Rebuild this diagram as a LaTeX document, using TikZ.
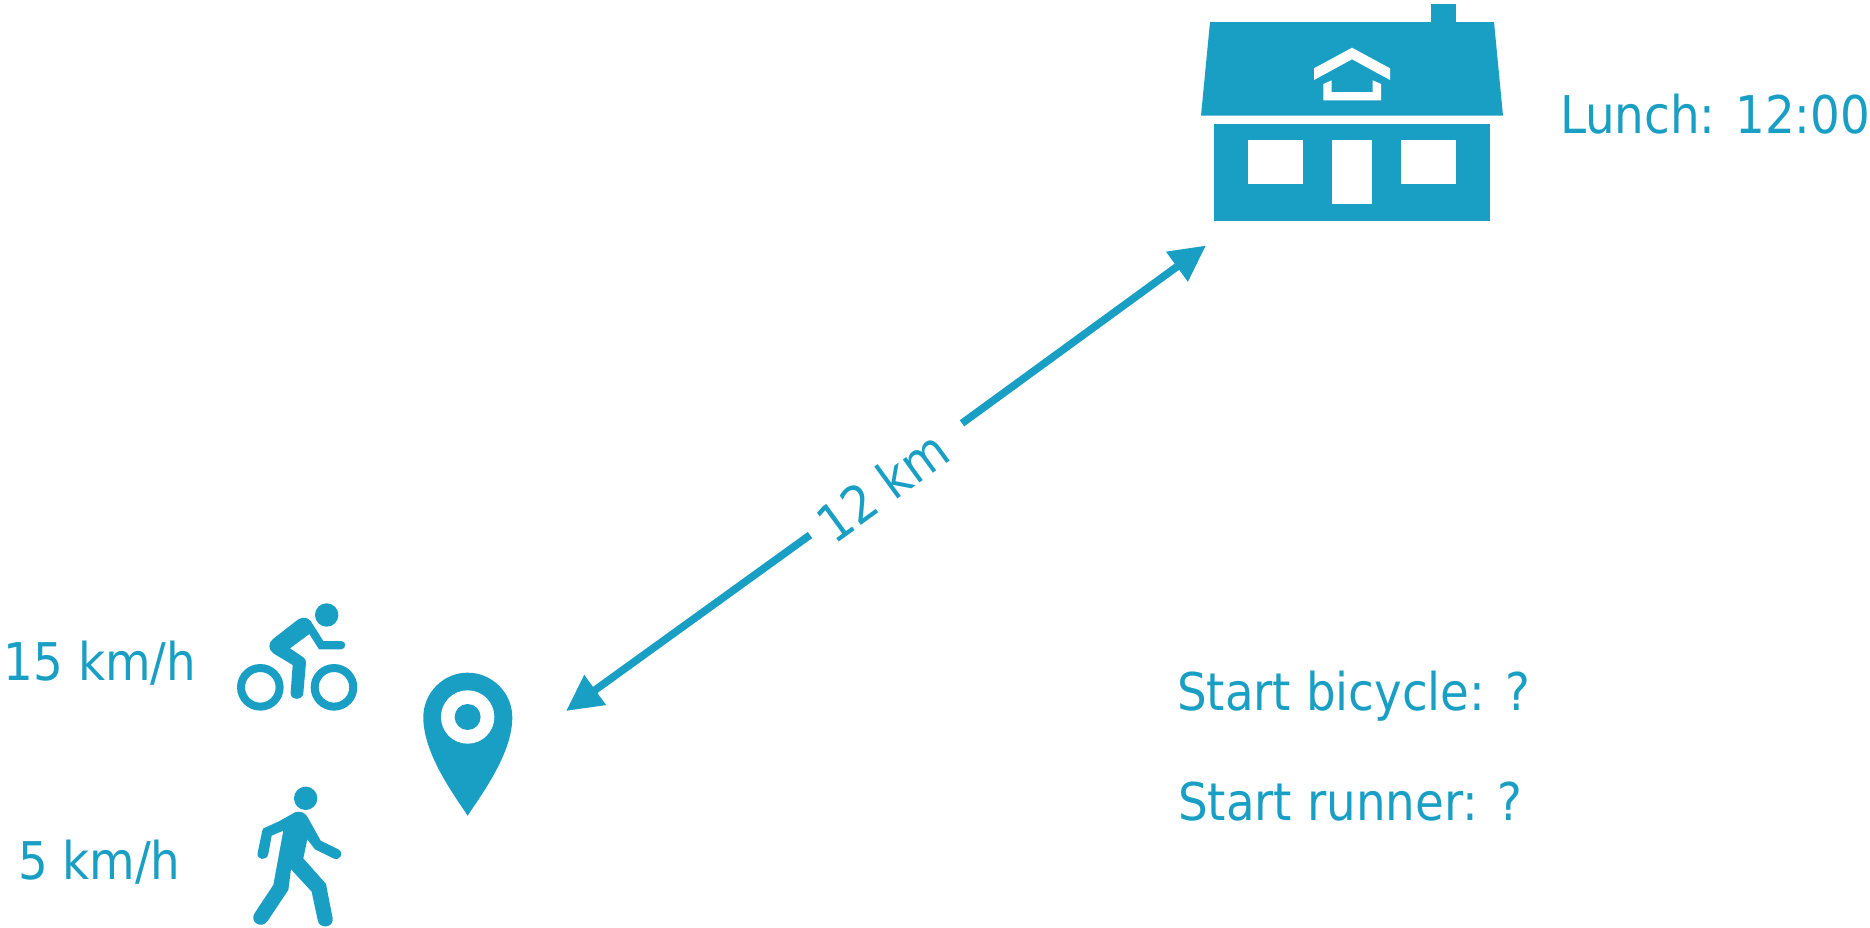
\documentclass[tikz,border=0pt]{standalone}
\usepackage{fontspec}
\setmainfont{DejaVu Sans Condensed}
\usetikzlibrary{arrows.meta}
\definecolor{brand}{HTML}{1A9FC4}
\tikzset{
  icon/.style={fill=brand,draw=none},
  hole/.style={fill=white,draw=none},
  lbl/.style={text=brand,inner sep=0pt,outer sep=0pt,font=\fontsize{52}{62}\selectfont,anchor=base west},
  conn/.style={draw=brand,line width=7.6pt,-{Triangle[length=36pt,width=35pt]}}
}
\begin{document}
\begin{tikzpicture}[x=1pt,y=-1pt]
\useasboundingbox (0,0) rectangle (1870,927);
% house
\fill[icon] (1431,3.5) rectangle (1456,30);
\fill[icon] (1210,22) -- (1494,22) -- (1503,115.7) -- (1201,115.7) -- cycle;
\fill[icon] (1214,123.7) rectangle (1490,221.3);
\fill[hole] (1248,140) rectangle (1303,183.7);
\fill[hole] (1332.3,140) rectangle (1372,204.3);
\fill[hole] (1401,140) rectangle (1455.7,183.7);
\fill[hole] (1352,47.7) -- (1390,68.3) -- (1390,80) -- (1352,59.3) -- (1314,80) -- (1314,68.3) -- cycle;
\fill[hole] (1323.3,84) -- (1331.7,80.3) -- (1331.7,92) -- (1372.7,92) -- (1372.7,80.3) -- (1381,84) -- (1381,100.3) -- (1323.3,100.3) -- cycle;
% icons in zoom coordinates
\begin{scope}[shift={(220,590)},x=0.3333pt,y=-0.3333pt]
  % cyclist
  \fill[icon] (320,75) circle[radius=11.7pt];
  \draw[brand,line width=8pt] (121,292) circle[radius=19.3pt];
  \draw[brand,line width=8pt] (342,292) circle[radius=19.3pt];
  \fill[icon] (235,88) .. controls (248,80) and (263,82) .. (272,93) -- (310,153) -- (363,153)
    .. controls (380,153) and (380,178) .. (363,178) -- (297,178) -- (268,132) -- (210,175) -- (250,202)
    .. controls (256,206) and (258,211) .. (258,218) -- (250,310)
    .. controls (248,332) and (210,332) .. (212,308) -- (218,225) -- (160,190)
    .. controls (144,178) and (144,158) .. (160,146) -- cycle;
  % walker
  \fill[icon] (257,625) circle[radius=11.7pt];
  \fill[icon] (225,667) .. controls (240,662) and (255,668) .. (262,680) -- (302,752) -- (355,778)
    .. controls (375,790) and (358,815) .. (340,805) -- (285,778) -- (262,748) -- (250,805) -- (318,882) -- (338,985)
    .. controls (342,1015) and (297,1018) .. (293,990) -- (275,905) -- (213,838) -- (205,900) -- (143,993)
    .. controls (125,1020) and (85,995) .. (105,968) -- (160,885) -- (190,722) -- (155,737) -- (145,792)
    .. controls (140,815) and (108,810) .. (113,788) -- (127,722) .. controls (128,716) and (131,714) .. (135,713) -- (175,695) -- cycle;
  % pin
  \fill[icon] (743,677) .. controls (700,612) and (610,490) .. (610,382) .. controls (610,308) and (670,248) .. (743,248)
    .. controls (816,248) and (877,308) .. (877,382) .. controls (877,490) and (786,612) .. (743,677) -- cycle;
  \fill[hole] (743,381) circle[radius=26.7pt];
  \fill[icon] (743,381) circle[radius=13pt];
\end{scope}
% labels
\node[lbl] (lunch) at (1560,133) {Lunch: 12:00};
\node[lbl] (bike) at (4,680) {15 km/h};
\node[lbl] (run) at (18,879) {5 km/h};
\node[lbl] (sb) at (1177,710) {Start bicycle: ?};
\node[lbl] (sr) at (1178,820) {Start runner: ?};
\node[text=brand,inner sep=0pt,font=\fontsize{52}{62}\selectfont,rotate=36] (dist) at (882,486) {12 km};
% connector
\coordinate (tipU) at (1206,245.5);
\coordinate (gapU) at (962,423.3);
\coordinate (tipL) at (566,711);
\coordinate (gapL) at (810,535);
\draw[conn] (gapU) -- (tipU);
\draw[conn] (gapL) -- (tipL);
\end{tikzpicture}
\end{document}
